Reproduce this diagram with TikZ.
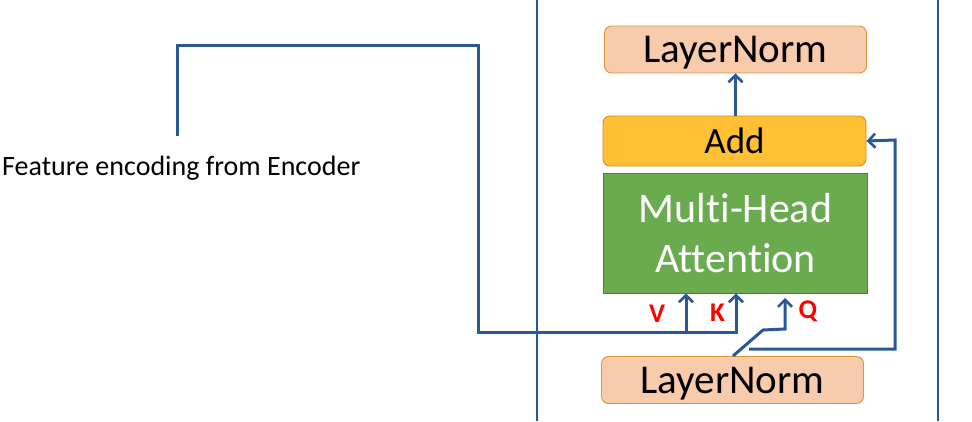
\documentclass[tikz,border=0pt]{standalone}
\usepackage{fontspec}
\setmainfont{Carlito}[Ligatures=CommonOff]
\usetikzlibrary{arrows.meta}
\definecolor{lnfill}{HTML}{F8CBAD}
\definecolor{lnborder}{HTML}{D49A3A}
\definecolor{addfill}{HTML}{FFC033}
\definecolor{addborder}{HTML}{C9902A}
\definecolor{mhafill}{HTML}{6AAB50}
\definecolor{mhaborder}{HTML}{507E32}
\definecolor{conn}{HTML}{2A5795}
\definecolor{lblred}{HTML}{FF0000}
\begin{document}
\begin{tikzpicture}[x=1pt,y=-1pt,
  box/.style={draw, line width=0.9pt, rounded corners=7pt, inner sep=0pt, align=center, text depth=0pt},
  lnbox/.style={box, fill=lnfill, draw=lnborder, minimum width=262pt, minimum height=47pt, font=\fontsize{41}{46}\selectfont},
  addbox/.style={box, fill=addfill, draw=addborder, minimum width=263pt, minimum height=50pt, font=\fontsize{37}{40}\selectfont},
  mhabox/.style={draw=mhaborder, fill=mhafill, line width=0.9pt, minimum width=264pt, minimum height=120pt, inner sep=0pt, align=center, text=white, font=\fontsize{42}{50}\selectfont},
  conn/.style={draw=conn, line width=3pt},
  arr/.style={conn, -{Straight Barb[length=7pt,width=14pt,line width=2.6pt]}},
  sep/.style={draw=conn, line width=2.6pt},
  lbl/.style={text=lblred, font=\fontsize{27}{30}\selectfont\bfseries, inner sep=0pt}
]
\useasboundingbox (0,0) rectangle (972,421);

% separators
\coordinate (s1t) at (537,0); \coordinate (s1b) at (537,421);
\coordinate (s2t) at (938,0); \coordinate (s2b) at (938,421);
\draw[sep] (s1t) -- (s1b);
\draw[sep] (s2t) -- (s2b);

% blocks
\node[lnbox] (lnTop) at (735.5,49.5) {LayerNorm};
\node[addbox] (add) at (734.5,141) {Add};
\node[mhabox] (mha) at (735.5,233) {Multi-Head\\Attention};
\node[lnbox] (lnBot) at (732.5,380) {LayerNorm};

% text
\node[anchor=west, inner sep=0pt, font=\fontsize{28}{32}\selectfont] (fe) at (2,168) {Feature encoding from Encoder};

% labels
\node[lbl] (V) at (657,314) {V};
\node[lbl] (K) at (717.5,313) {K};
\node[lbl] (Q) at (808,311) {Q};

% connectors
\draw[arr] (add.north -| lnTop) -- (lnTop.south);

\coordinate (feEnd) at (177,136);
\coordinate (vx) at (686,332);
\coordinate (kx) at (736,332);
\draw[conn] (feEnd) -- (177,45) -- (478,45) -- (478,332) -- (vx);
\draw[arr] (vx) -- (vx |- mha.south);
\draw[arr] (vx) -- (kx) -- (kx |- mha.south);

\coordinate (qs) at (733,356);
\draw[arr] (qs) -- (763,330) -- (785,329) -- (785,298);

\coordinate (rs) at (749,349);
\draw[arr] (rs) -- (895,349) -- (895,140) -- (add.east);
\end{tikzpicture}
\end{document}
